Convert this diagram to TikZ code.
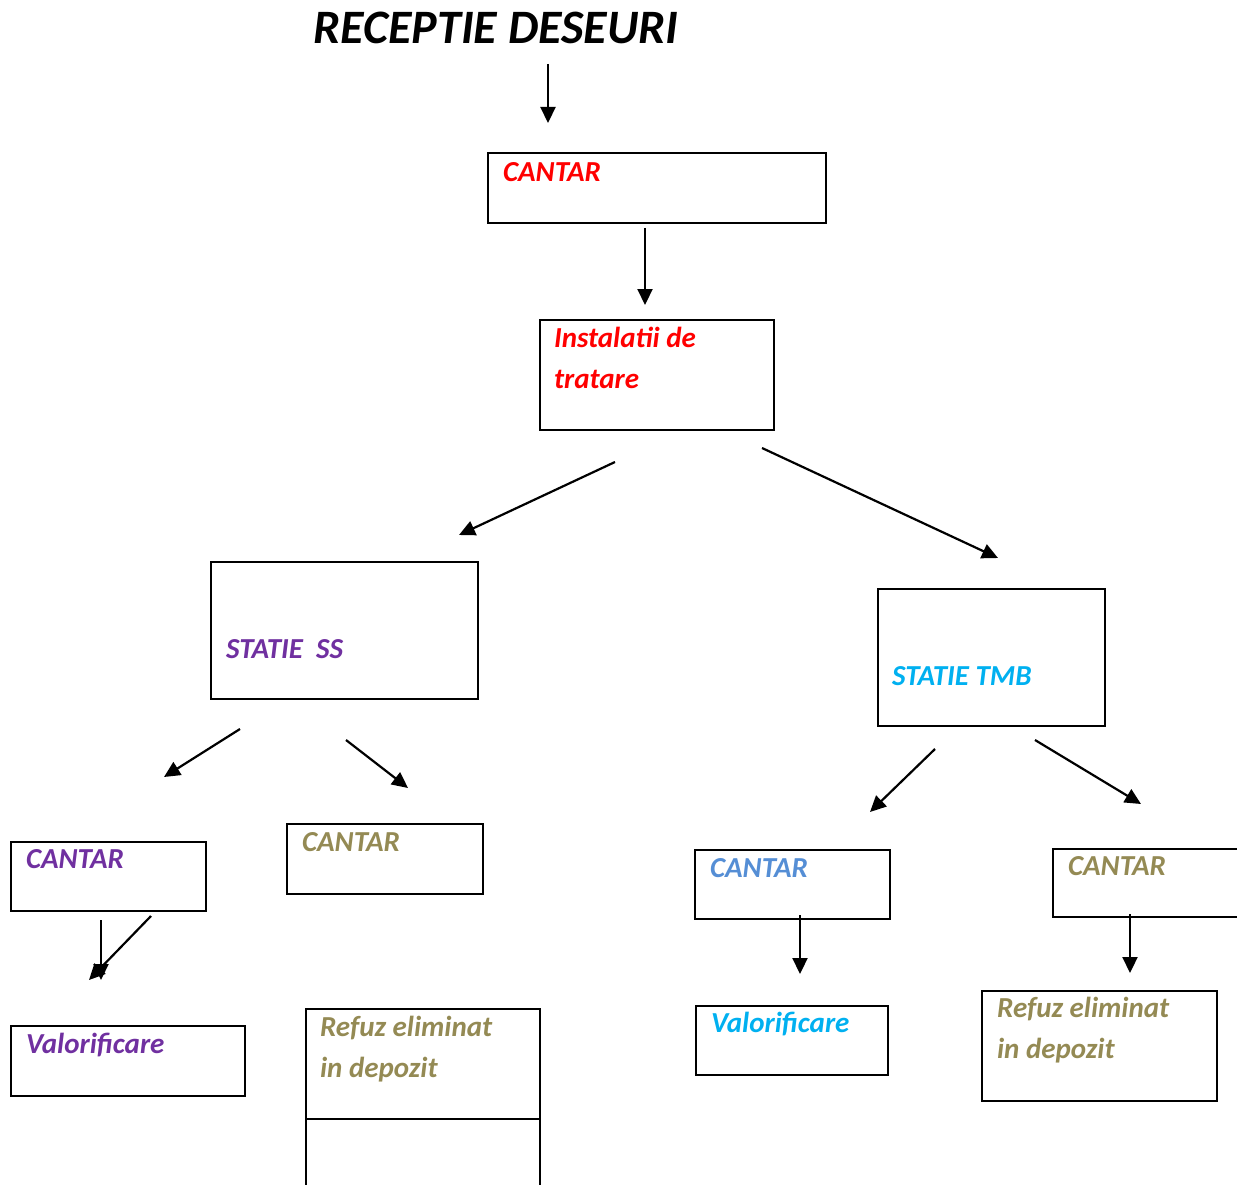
\documentclass[tikz,border=0pt]{standalone}
\usepackage{fontspec}
\setmainfont{Carlito}
\usetikzlibrary{arrows.meta}
\definecolor{wPurple}{RGB}{112,48,160}
\definecolor{wOlive}{RGB}{148,138,84}
\definecolor{wBlue}{RGB}{85,142,213}
\definecolor{wCyan}{RGB}{0,176,240}
\begin{document}
\begin{tikzpicture}[x=1pt, y=-1pt, line width=2.2pt,
    box/.style={draw, rectangle, inner sep=0pt, anchor=north west},
    lbl/.style={anchor=base west, inner sep=0pt, font=\fontsize{29}{41}\selectfont\bfseries\itshape},
    flow/.style={-{Triangle[length=16pt,width=15pt]}}]
  \useasboundingbox (0,0) rectangle (1237,1185);
  \clip (0,0) rectangle (1237,1185);
  % title
  \node[lbl, anchor=base, font=\fontsize{48}{58}\selectfont\bfseries\itshape] (titlu) at (496,44) {RECEPTIE DESEURI};
  % boxes
  \node[box, minimum width=338pt, minimum height=70pt]  (cantar)  at (487,152) {};
  \node[box, minimum width=234pt, minimum height=110pt] (instal)  at (539,319) {};
  \node[box, minimum width=267pt, minimum height=137pt] (ss)      at (210,561) {};
  \node[box, minimum width=227pt, minimum height=137pt] (tmb)     at (877,588) {};
  \node[box, minimum width=195pt, minimum height=69pt]  (cantarSa) at (10,841) {};
  \node[box, minimum width=196pt, minimum height=70pt]  (cantarSb) at (286,823) {};
  \node[box, minimum width=195pt, minimum height=69pt]  (cantarTa) at (694,849) {};
  \node[box, minimum width=215pt, minimum height=68pt]  (cantarTb) at (1052,848) {};
  \node[box, minimum width=234pt, minimum height=70pt]  (valS)    at (10,1025) {};
  \node[box, minimum width=234pt, minimum height=110pt] (refS)    at (305,1008) {};
  \node[box, minimum width=234pt, minimum height=110pt] (refSb)   at (305,1118) {};
  \node[box, minimum width=192pt, minimum height=69pt]  (valT)    at (695,1005) {};
  \node[box, minimum width=235pt, minimum height=110pt] (refT)    at (981,990) {};
  % texts (multi-line ones sit on their last baseline)
  \node[lbl, text=red]     (tCantar)  at (502,182) {CANTAR};
  \node[lbl, text=red, align=left] (tInstal) at (553,388) {Instalatii de\\tratare};
  \node[lbl, text=wPurple] (tSs)      at (225,658) {STATIE\ \ SS};
  \node[lbl, text=wCyan]   (tTmb)     at (891,685) {STATIE TMB};
  \node[lbl, text=wPurple] (tCantarSa) at (25,868) {CANTAR};
  \node[lbl, text=wOlive]  (tCantarSb) at (301,851) {CANTAR};
  \node[lbl, text=wBlue]   (tCantarTa) at (709,877) {CANTAR};
  \node[lbl, text=wOlive]  (tCantarTb) at (1067,875) {CANTAR};
  \node[lbl, text=wPurple] (tValS)    at (25,1053) {Valorificare};
  \node[lbl, text=wOlive, align=left] (tRefS) at (319,1077) {Refuz eliminat\\in depozit};
  \node[lbl, text=wCyan]   (tValT)    at (710,1032) {Valorificare};
  \node[lbl, text=wOlive, align=left] (tRefT) at (996,1058) {Refuz eliminat\\in depozit};
  % arrows
  \foreach \n/\xa/\ya/\xb/\yb in {
    a/548/64/548/123, b/645/228/645/305, c/615/462/459/535, d/762/448/998/558,
    e/240/729/164/777, f/346/740/408/788, g/935/749/870/812, h/1035/740/1141/804,
    i/101/920/101/980, j/151/916/89/980, k/800/915/800/974, l/1130/914/1130/973} {
    \coordinate (s\n) at (\xa,\ya);
    \coordinate (e\n) at (\xb,\yb);
    \draw[flow] (s\n) -- (e\n);
  }
\end{tikzpicture}
\end{document}
